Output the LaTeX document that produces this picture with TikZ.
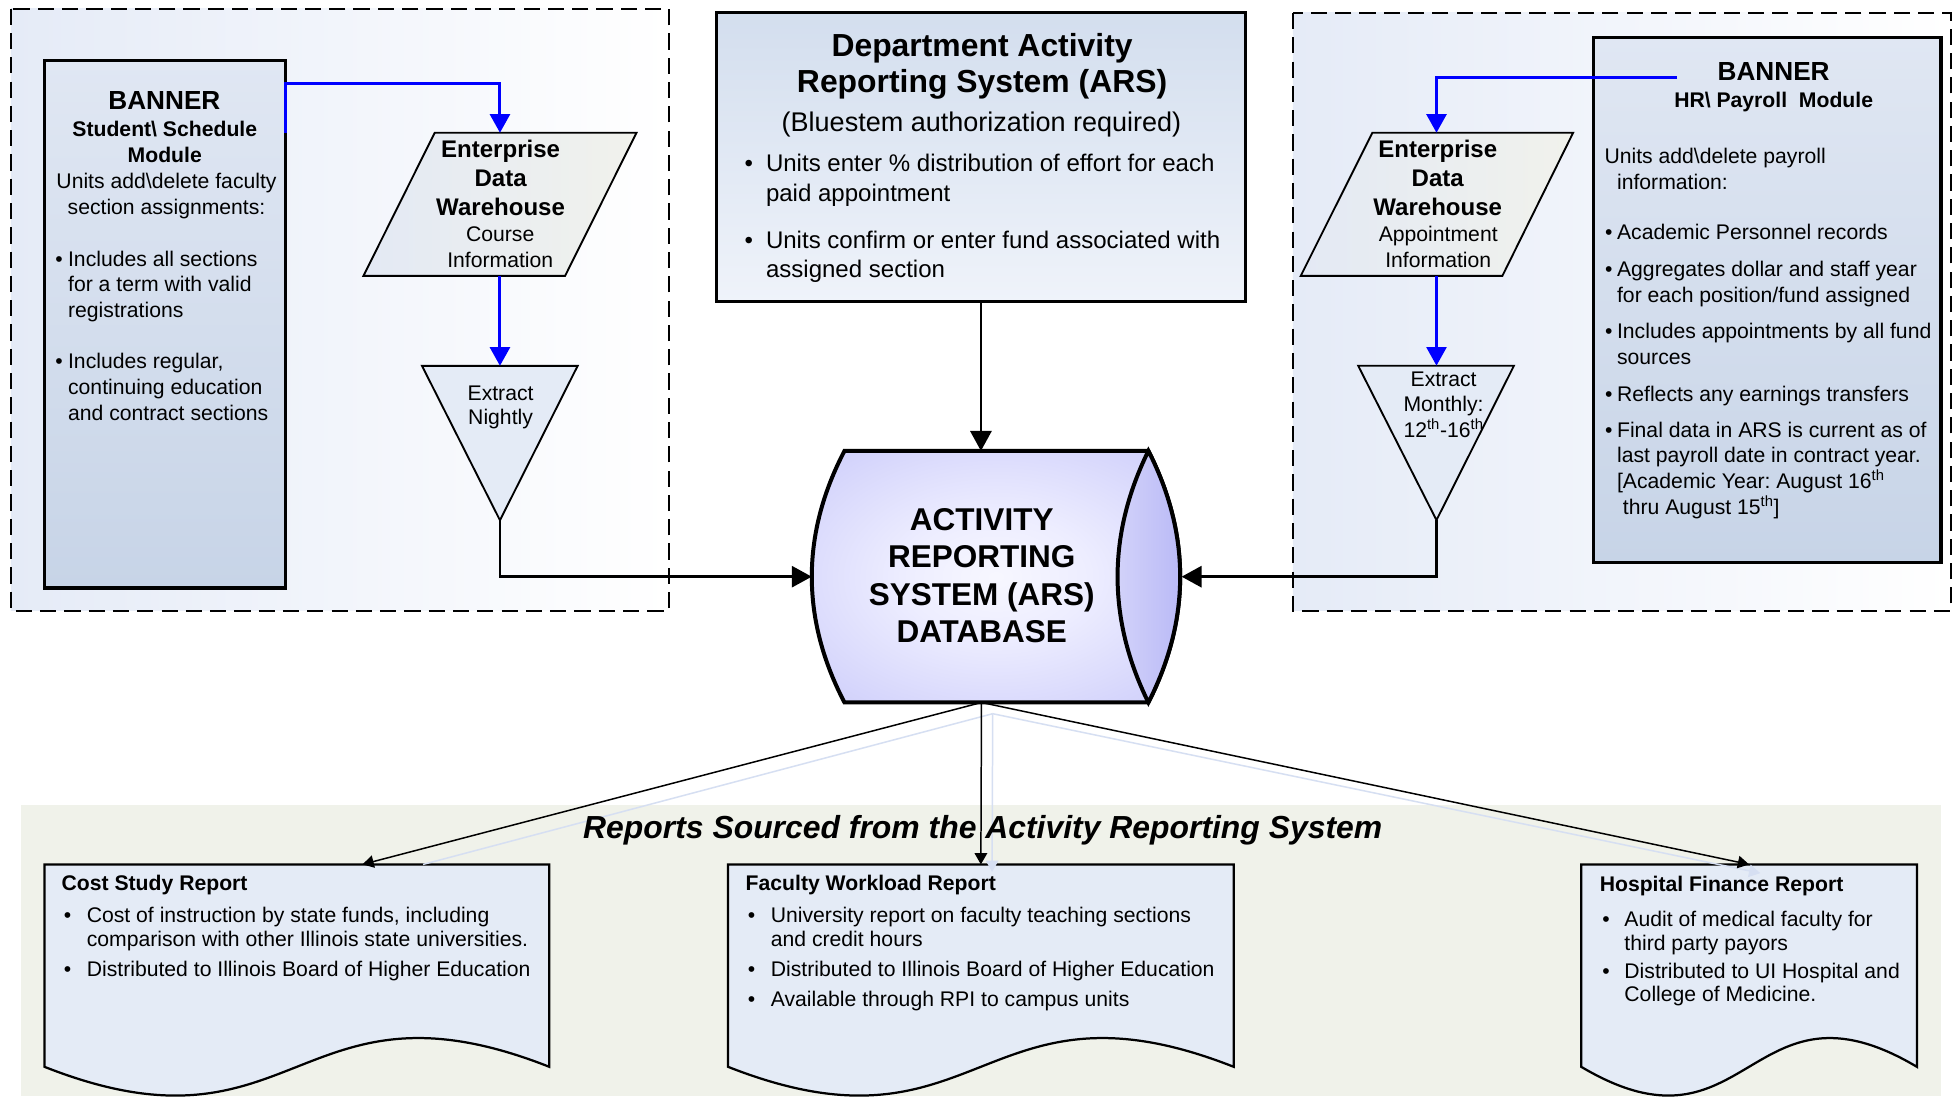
\documentclass[tikz,border=0pt]{standalone}
\usepackage{fontspec}
\setmainfont{Liberation Sans}
\usetikzlibrary{arrows.meta,calc}
\frenchspacing
\newcommand\repbul[1]{\makebox[#1][l]{\textbullet}}
\newcommand\repind[1]{\hspace*{#1}}
\pgfdeclareradialshading{dbglow}{\pgfpoint{0bp}{0bp}}{rgb(0bp)=(0.97,0.97,1); rgb(12bp)=(0.93,0.93,1); rgb(50bp)=(0.72,0.72,0.97); rgb(72bp)=(0.72,0.72,0.97)}
\begin{document}
\begin{tikzpicture}[x=1pt,y=-1pt,
  txt/.style={text=black,inner sep=0pt,outer sep=0pt},
  hidden/.style={inner sep=0pt,outer sep=0pt},
  dashbox/.style={draw=black,line width=1.3pt,dash pattern=on 13pt off 6.5pt},
  bannerbox/.style={draw=black,line width=2.6pt,top color=bannerTop,bottom color=bannerBot,inner sep=0pt,outer sep=0pt},
  arsbox/.style={draw=black,line width=2.5pt,top color=arsTop,bottom color=arsBot,inner sep=0pt,outer sep=0pt},
  edwshape/.style={draw=black,line width=1.5pt,left color=edwLeft,right color=edwRight},
  trishape/.style={draw=black,line width=1.5pt,fill=triFill},
  docshape/.style={draw=black,line width=1.8pt,fill=docFill},
  dbline/.style={draw=black,line width=3.2pt},
  bluelink/.style={draw=linkBlue,line width=2.4pt,-{Triangle[length=15pt,width=16pt]}},
  blacklink/.style={draw=black,line width=2pt,-{Triangle[length=16pt,width=17pt]}},
  reportlink/.style={draw=black,line width=1.2pt,-{Triangle[length=9pt,width=10pt]}},
  ghostlink/.style={draw=ghostBlue,line width=1.2pt}]
\definecolor{bgBlue}{RGB}{229,235,247}
\definecolor{bannerTop}{RGB}{224,231,243}
\definecolor{bannerBot}{RGB}{199,212,231}
\definecolor{arsTop}{RGB}{211,222,238}
\definecolor{arsBot}{RGB}{239,243,250}
\definecolor{edwLeft}{RGB}{227,233,244}
\definecolor{edwRight}{RGB}{241,242,236}
\definecolor{triFill}{RGB}{228,235,246}
\definecolor{lensLeft}{RGB}{214,214,250}
\definecolor{lensRight}{RGB}{182,182,246}
\definecolor{bandFill}{RGB}{240,242,234}
\definecolor{docFill}{RGB}{228,235,246}
\definecolor{linkBlue}{RGB}{0,0,255}
\definecolor{ghostBlue}{RGB}{214,223,242}
\fill[white] (0,0) rectangle (1568,880);
\useasboundingbox (0,0) rectangle (1568,880);

% source areas and report band
\path[dashbox,left color=bgBlue,right color=white] (8.7,7) rectangle (537,490.5);
\path[dashbox,left color=bgBlue,right color=white] (1038,10.4) rectangle (1566.3,490.3);
\fill[bandFill] (17,646.3) rectangle (1558,880);

% shapes
\node[bannerbox,minimum width=193pt,minimum height=423.5pt] (bannerS) at (132.5,260.25) {};
\node[bannerbox,minimum width=279.1pt,minimum height=421.8pt] (bannerH) at (1418.85,240.9) {};
\node[arsbox,minimum width=425.3pt,minimum height=232pt] (ars) at (787.55,126.2) {};

\draw[edwshape] (349,106.6) -- (511,106.6) -- (453.7,221.5) -- (291.8,221.5) -- cycle;
\node[hidden,minimum width=162pt,minimum height=114.9pt] (edwL) at (401.4,164.05) {};
\draw[edwshape] (1101.8,106.6) -- (1263,106.6) -- (1206.2,221.5) -- (1044.3,221.5) -- cycle;
\node[hidden,minimum width=162pt,minimum height=114.9pt] (edwR) at (1153.3,164.05) {};

\draw[trishape] (338.8,293.7) -- (463.8,293.7) -- (401.4,417.7) -- cycle;
\node[hidden,minimum width=125pt,minimum height=124pt] (triL) at (401.4,355.7) {};
\draw[trishape] (1090.4,293.6) -- (1215.5,293.6) -- (1153.3,417.6) -- cycle;
\node[hidden,minimum width=125pt,minimum height=124pt] (triR) at (1153.3,355.6) {};

\draw[dbline,shade,shading=dbglow] (678,362) -- (922,362) .. controls (956,429) and (956,497) .. (922,564) -- (678,564) .. controls (643,497) and (643,429) .. (678,362) -- cycle;
\draw[dbline,left color=lensLeft,right color=lensRight] (922,362) .. controls (956,429) and (956,497) .. (922,564) .. controls (889,497) and (889,429) .. (922,362) -- cycle;
\node[hidden,minimum width=272.6pt,minimum height=202pt] (db) at (788,463) {};
\node[hidden,minimum width=51.7pt,minimum height=202pt] (dbLens) at (922.85,463) {};

\draw[docshape] (35.7,694) -- (441,694) -- (441,856.5) .. controls (238.35,776.5) and (238.35,936.5) .. (35.7,856.5) -- cycle;
\node[hidden,minimum width=405.3pt,minimum height=162.5pt] (cost) at (238.35,775.25) {};
\draw[docshape] (584.5,694) -- (990.5,694) -- (990.5,856.5) .. controls (787.5,776.5) and (787.5,936.5) .. (584.5,856.5) -- cycle;
\node[hidden,minimum width=406pt,minimum height=162.5pt] (fac) at (787.5,775.25) {};
\draw[docshape] (1269.5,694) -- (1539,694) -- (1539,856.5) .. controls (1404.25,776.5) and (1404.25,936.5) .. (1269.5,856.5) -- cycle;
\node[hidden,minimum width=269.5pt,minimum height=162.5pt] (hosp) at (1404.25,775.25) {};

% connectors
\coordinate (bhOut) at (1346.5,62.6);
\draw[bluelink] (bannerS.east |- edwL.north) -- ++(0,-39.2) -| (edwL.north);
\draw[bluelink] (edwL.south) -- (triL.north);
\draw[bluelink] (bhOut) -| (edwR.north);
\draw[bluelink] (edwR.south) -- (triR.north);
\draw[blacklink] (triL.south) |- (db.west);
\draw[blacklink] (triR.south) |- (dbLens.east);
\draw[blacklink] (ars.south) -- (ars.south |- db.north);

\draw[ghostlink] ([shift={(9,9)}]db.south) -- ($(cost.north west)!0.75!(cost.north east)$);
\draw[ghostlink,-{Triangle[length=9pt,width=10pt]}] ([shift={(9,9)}]db.south) -- ([shift={(9,6)}]fac.north);
\draw[ghostlink,-{Triangle[length=9pt,width=10pt]}] ([shift={(9,9)}]db.south) -- ([shift={(9,7)}]hosp.north);
\draw[reportlink] (db.south) -- ($(cost.north west)!0.63!(cost.north east)$);
\draw[reportlink] (db.south) -- (fac.north);
\draw[reportlink] (db.south) -- (hosp.north);

% texts
\node[txt,anchor=base,font=\bfseries\fontsize{21}{25}\selectfont] (bsHead) at (132,88) {BANNER};
\node[txt,anchor=north,align=center,font=\bfseries\fontsize{17}{20.6}\selectfont] (bsSub) at (132.3,95.4) {\strut Student\textbackslash\ Schedule\\Module};
\node[txt,anchor=north,align=center,font=\fontsize{17}{20.6}\selectfont] (bsUnits) at (133.7,136.9) {\strut Units add\textbackslash delete faculty\\section assignments:};
\node[txt,anchor=north west,align=left,font=\fontsize{17}{20.6}\selectfont] (bsList) at (44.4,199.2) {\strut\repbul{10.3pt}Includes all sections\\\repind{10.3pt}for a term with valid\\\repind{10.3pt}registrations\\[20.6pt]\repbul{10.3pt}Includes regular,\\\repind{10.3pt}continuing education\\\repind{10.3pt}and contract sections};

\node[txt,anchor=north,align=center,font=\bfseries\fontsize{19.3}{23.2}\selectfont] (edwLhead) at (401.9,110.1) {\strut Enterprise\\Data\\Warehouse};
\node[txt,anchor=north,align=center,font=\fontsize{17}{21}\selectfont] (edwLsub) at (401.6,179.3) {\strut Course\\Information};
\node[txt,anchor=north,align=center,font=\fontsize{17}{20}\selectfont] (triLtxt) at (401.9,307.2) {\strut Extract\\Nightly};

\node[txt,anchor=north,align=center,font=\bfseries\fontsize{25.6}{29.4}\selectfont] (arsHead) at (788.5,24.4) {\strut Department Activity\\Reporting System (ARS)};
\node[txt,anchor=base,font=\fontsize{21.7}{26}\selectfont] (arsNote) at (788,105.7) {(Bluestem authorization required)};
\node[txt,anchor=north west,align=left,font=\fontsize{19.3}{23.6}\selectfont] (arsList) at (597.8,121.3) {\strut\repbul{17.2pt}Units enter \% distribution of effort for each\\\repind{17.2pt}paid appointment\\[14.4pt]\repbul{17.2pt}Units confirm or enter fund associated with\\\repind{17.2pt}assigned section};

\node[txt,anchor=north,align=center,font=\bfseries\fontsize{25.3}{30.2}\selectfont] (dbText) at (788.2,404.4) {\strut ACTIVITY\\REPORTING\\SYSTEM (ARS)\\DATABASE};

\node[txt,anchor=base,font=\bfseries\fontsize{21}{25}\selectfont] (bhHead) at (1424,64.9) {BANNER};
\node[txt,anchor=base,font=\bfseries\fontsize{17}{20.6}\selectfont] (bhSub) at (1424,86) {HR\textbackslash\ Payroll\ \ Module};
\node[txt,anchor=north west,align=left,font=\fontsize{17}{20.6}\selectfont] (bhUnits) at (1288.2,116.9) {\strut Units add\textbackslash delete payroll\\\repind{10.1pt}information:};
\node[txt,anchor=north west,align=left,font=\fontsize{17}{20.6}\selectfont] (bhList) at (1288.7,177.9) {\strut\repbul{9.6pt}Academic Personnel records\\[9pt]\repbul{9.6pt}Aggregates dollar and staff year\\\repind{9.6pt}for each position/fund assigned\\[9pt]\repbul{9.6pt}Includes appointments by all fund\\\repind{9.6pt}sources\\[9pt]\repbul{9.6pt}Reflects any earnings transfers\\[8pt]\repbul{9.6pt}Final data in ARS is current as of\\\repind{9.6pt}last payroll date in contract year.\\\repind{9.6pt}{[}Academic Year: August 16\textsuperscript{th}\\\repind{9.6pt}\ thru August 15\textsuperscript{th}{]}};

\node[txt,anchor=north,align=center,font=\bfseries\fontsize{19.3}{23.2}\selectfont] (edwRhead) at (1154.3,110.1) {\strut Enterprise\\Data\\Warehouse};
\node[txt,anchor=north,align=center,font=\fontsize{17}{21}\selectfont] (edwRsub) at (1154.7,179.3) {\strut Appointment\\Information};
\node[txt,anchor=north,align=center,font=\fontsize{17}{20.5}\selectfont] (triRtxt) at (1159,295.6) {\strut Extract\\Monthly:\\12\textsuperscript{th}-16\textsuperscript{th}};

\node[txt,anchor=base,font=\bfseries\itshape\fontsize{25.6}{30}\selectfont] (repTitle) at (789,673.3) {Reports Sourced from the Activity Reporting System};

\node[txt,anchor=base west,font=\bfseries\fontsize{17}{20}\selectfont] (costHead) at (49.5,715.1) {Cost Study Report};
\node[txt,anchor=north west,align=left,font=\fontsize{17}{19.3}\selectfont] (costList) at (51.2,727.3) {\strut\repbul{18.5pt}Cost of instruction by state funds, including\\\repind{18.5pt}comparison with other Illinois state universities.\\[4.7pt]\repbul{18.5pt}Distributed to Illinois Board of Higher Education};

\node[txt,anchor=base west,font=\bfseries\fontsize{17}{20}\selectfont] (facHead) at (598.7,715.1) {Faculty Workload Report};
\node[txt,anchor=north west,align=left,font=\fontsize{17}{19.3}\selectfont] (facList) at (600.4,727.3) {\strut\repbul{18.5pt}University report on faculty teaching sections\\\repind{18.5pt}and credit hours\\[4.7pt]\repbul{18.5pt}Distributed to Illinois Board of Higher Education\\[4.7pt]\repbul{18.5pt}Available through RPI to campus units};

\node[txt,anchor=base west,font=\bfseries\fontsize{17}{20}\selectfont] (hospHead) at (1284.4,715.9) {Hospital Finance Report};
\node[txt,anchor=north west,align=left,font=\fontsize{17}{18.8}\selectfont] (hospList) at (1286.5,730.8) {\strut\repbul{17.7pt}Audit of medical faculty for\\\repind{17.7pt}third party payors\\[4pt]\repbul{17.7pt}Distributed to UI Hospital and\\\repind{17.7pt}College of Medicine.};
\end{tikzpicture}
\end{document}
